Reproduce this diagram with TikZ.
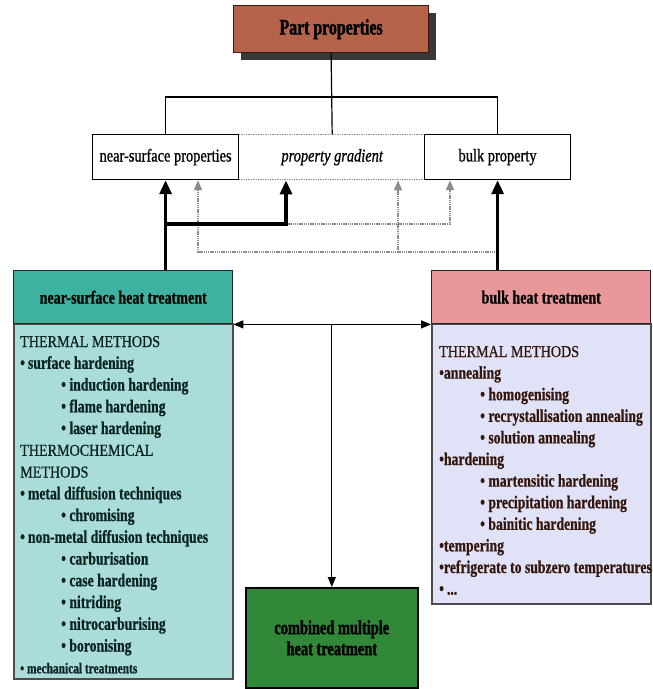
\documentclass[tikz,border=0pt]{standalone}
\usepackage{fontspec}
\setmainfont{Liberation Serif}
% narrow serif families for the tall, condensed lettering
\newfontfamily\condserif[FakeStretch=0.76,BoldFeatures={FakeBold=0.8}]{Liberation Serif}
\newfontfamily\capserif[FakeStretch=0.85,FakeBold=0.8]{Liberation Serif}
\newfontfamily\rowserif[FakeStretch=0.8,FakeBold=0.9]{Liberation Serif}
\newfontfamily\heavyserif[FakeStretch=0.72,BoldFeatures={FakeBold=1.6}]{Liberation Serif}
\usetikzlibrary{arrows.meta,shadows}

\definecolor{ppfill}{RGB}{181,99,74}
\definecolor{ppline}{RGB}{60,25,15}
\definecolor{nshead}{RGB}{62,178,158}
\definecolor{nsbody}{RGB}{170,221,218}
\definecolor{bkhead}{RGB}{232,152,154}
\definecolor{bkbody}{RGB}{224,226,248}
\definecolor{cbfill}{RGB}{48,136,56}
\definecolor{nstext}{RGB}{10,36,36}
\definecolor{bktext}{RGB}{52,22,12}
\definecolor{dotgray}{RGB}{140,140,140}

% list line formats
\newcommand{\lstcap}[1]{{\capserif\mdseries\fontsize{16.6}{18}\selectfont #1}}
\newcommand{\lstone}[1]{•\,#1}
\newcommand{\lstonenb}[1]{•#1}
\newcommand{\lsttwo}[1]{\hspace*{41pt}• #1}
\newcommand{\lstsmall}[1]{{\fontsize{15}{17}\selectfont • #1}}

\begin{document}
\begin{tikzpicture}[x=1pt,y=-1pt,
  boxbase/.style={draw, inner sep=0pt, anchor=north west},
  ppbox/.style={boxbase, fill=ppfill, draw=ppline, line width=1.2pt,
    font=\heavyserif\bfseries\fontsize{22}{24}\selectfont,
    drop shadow={shadow xshift=7pt, shadow yshift=-7pt, fill=black!78, opacity=1}},
  propbox/.style={boxbase, fill=white, draw=black, line width=1.2pt,
    font=\rowserif\fontsize{18}{20}\selectfont},
  gradbox/.style={boxbase, fill=white, draw=dotgray, line width=1.4pt,
    dash pattern=on 1.4pt off 1pt, font=\rowserif\itshape\fontsize{18}{20}\selectfont},
  headbox/.style={boxbase, line width=1.4pt, draw=black!85,
    font=\condserif\bfseries\fontsize{18.5}{20}\selectfont},
  bodybox/.style={boxbase, line width=1.6pt, draw=black!70},
  listtext/.style={anchor=base west, inner sep=0pt,
    font=\condserif\bfseries\fontsize{18}{20}\selectfont},
  combbox/.style={boxbase, fill=cbfill, draw=black, line width=1.6pt, align=center,
    font=\heavyserif\bfseries\fontsize{20}{21}\selectfont},
  thinln/.style={draw=black, line width=1.2pt},
  thinarr/.style={thinln, -{Triangle[length=10pt,width=8pt]}},
  thickarr/.style={draw=black, line width=3.2pt, -{Triangle[length=14pt,width=12pt]}},
  dotarr/.style={draw=dotgray, line width=1.6pt, dash pattern=on 1.4pt off 0.8pt,
    -{Triangle[length=10pt,width=8pt,sep=0pt]}}
]
\useasboundingbox (0,0) rectangle (653,689);

% top level
\node[ppbox, minimum width=195pt, minimum height=47pt] (pp) at (233,5) {Part properties};

% property row
\node[gradbox, minimum width=187pt, minimum height=45pt] (pg) at (238,134) {property gradient};
\node[propbox, minimum width=146pt, minimum height=45pt] (nsp) at (92,134) {near-surface properties};
\node[propbox, minimum width=146pt, minimum height=45pt] (bp) at (424,134) {bulk property};

\coordinate (hub) at (331,97);
\draw[thinln] (nsp.north) |- (hub) -| (bp.north);
\draw[thinln] (pp.south) -- (pg.north);

% near-surface heat treatment
\node[bodybox, fill=nsbody, minimum width=219pt, minimum height=355pt] (nsb) at (13,323) {};
\node[headbox, fill=nshead, minimum width=219pt, minimum height=53pt] (nsh) at (13,270) {near-surface heat treatment};

\foreach \t [count=\i from 0] in {
  \lstcap{THERMAL METHODS},
  \lstone{surface hardening},
  \lsttwo{induction hardening},
  \lsttwo{flame hardening},
  \lsttwo{laser hardening},
  \lstcap{THERMOCHEMICAL},
  \lstcap{METHODS},
  \lstone{metal diffusion techniques},
  \lsttwo{chromising},
  \lstone{non-metal diffusion techniques},
  \lsttwo{carburisation},
  \lsttwo{case hardening},
  \lsttwo{nitriding},
  \lsttwo{nitrocarburising},
  \lsttwo{boronising},
  \lstsmall{mechanical treatments}}
  \node[listtext, text=nstext] (nsl\i) at (20,{347+21.75*\i}) {\t};

% bulk heat treatment
\node[bodybox, fill=bkbody, minimum width=219pt, minimum height=280pt] (bkb) at (431,323) {};
\node[headbox, fill=bkhead, minimum width=219pt, minimum height=53pt] (bkh) at (431,270) {bulk heat treatment};

\foreach \t [count=\i from 0] in {
  \lstcap{THERMAL METHODS},
  \lstonenb{annealing},
  \lsttwo{homogenising},
  \lsttwo{recrystallisation annealing},
  \lsttwo{solution annealing},
  \lstonenb{hardening},
  \lsttwo{martensitic hardening},
  \lsttwo{precipitation hardening},
  \lsttwo{bainitic hardening},
  \lstonenb{tempering},
  \lstonenb{refrigerate to subzero temperatures},
  \lstone{...}}
  \node[listtext, text=bktext] (bkl\i) at (439,{357+21.6*\i}) {\t};

% combined treatment
\node[combbox, minimum width=172pt, minimum height=100pt] (cb) at (245,587) {combined multiple\\heat treatment};

% links between treatments
\draw[thinarr, {Triangle[length=10pt,width=8pt]}-{Triangle[length=10pt,width=8pt]}]
  (nsh.south east) -- (bkh.south west);
\coordinate (mid) at (cb.north |- nsh.south);
\draw[thinarr] (mid) -- (cb.north);

% influence of treatments on properties
\coordinate (ta) at (nsp.south |- 0,224);
\coordinate (tb) at (286,224);
\coordinate (tc) at (450,224);
\coordinate (da) at (198,252);
\coordinate (db) at (bp.south |- 0,252);
\coordinate (dc) at (398,252);

\draw[dotarr] (db) -- (da) -- (da |- nsp.south);
\draw[dotarr] (dc) -- (dc |- pg.south);
\draw[dotarr] (tb) -- (tc) -- (tc |- bp.south);

\draw[thickarr] (nsp.south |- nsh.north) -- (nsp.south);
\draw[thickarr] (ta) -- (tb) -- (tb |- pg.south);
\draw[thickarr] (bp.south |- bkh.north) -- (bp.south);
\end{tikzpicture}
\end{document}
